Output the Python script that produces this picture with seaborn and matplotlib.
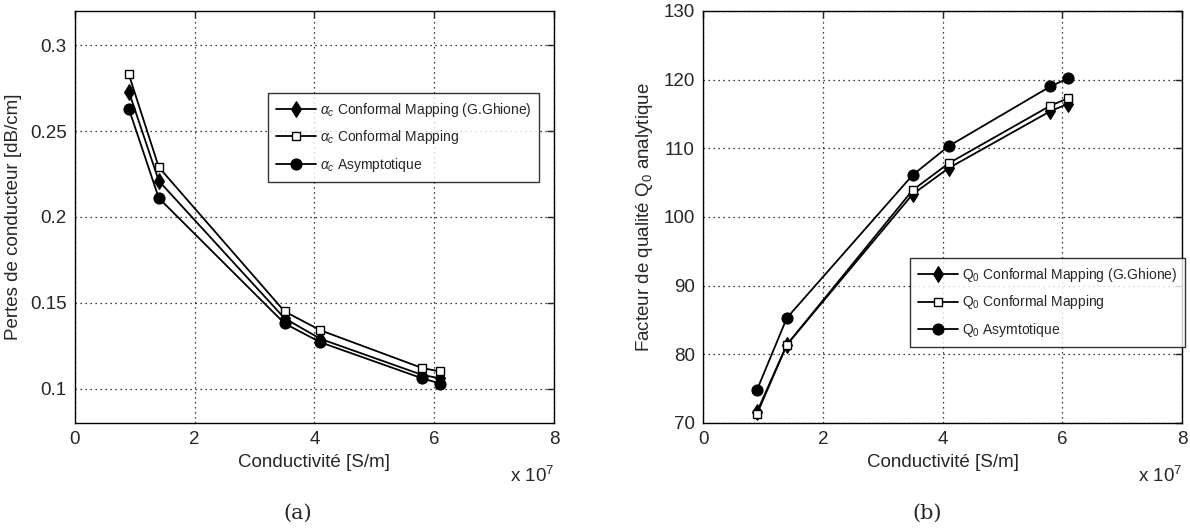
import numpy as np
import matplotlib
matplotlib.use("Agg")
import matplotlib.pyplot as plt
import seaborn as sns
from matplotlib.ticker import FuncFormatter

sns.set_theme(style="white")
plt.rcParams["font.family"] = ["Liberation Sans", "DejaVu Sans"]
plt.rcParams["mathtext.fontset"] = "custom"
plt.rcParams["mathtext.rm"] = "Liberation Sans"
plt.rcParams["mathtext.it"] = "Liberation Sans:italic"

# conductivity of the metals, S/m
conductivity = np.array([0.9e7, 1.4e7, 3.5e7, 4.1e7, 5.8e7, 6.1e7])

# (a) conductor losses, dB/cm
alpha_ghione = [0.273, 0.221, 0.141, 0.129, 0.108, 0.106]
alpha_conformal = [0.283, 0.229, 0.145, 0.134, 0.112, 0.110]
alpha_asympt = [0.263, 0.211, 0.138, 0.127, 0.106, 0.103]

# (b) analytic quality factor Q0
q_ghione = [71.6, 81.4, 103.3, 107.1, 115.4, 116.5]
q_conformal = [71.3, 81.4, 103.9, 107.8, 116.2, 117.3]
q_asympt = [74.8, 85.3, 106.1, 110.3, 119.0, 120.2]

x_ticks = [0, 2, 4, 6, 8]
alpha_ticks = [0.1, 0.15, 0.2, 0.25, 0.3]
q_ticks = [70, 80, 90, 100, 110, 120, 130]

styles = [
    dict(marker="d", markersize=8, markerfacecolor="black", markeredgecolor="black"),
    dict(marker="s", markersize=6, markerfacecolor="white", markeredgecolor="black", markeredgewidth=1),
    dict(marker="o", markersize=8, markerfacecolor="black", markeredgecolor="black"),
]


def draw_panel(ax, series, labels, ylim, yticks, ylabel, legend_anchor):
    xs = conductivity / 1e7
    for vals, lab, st in zip(series, labels, styles):
        sns.lineplot(x=xs, y=vals, ax=ax, color="black", linewidth=1.3,
                     label=lab, **st)
    ax.set_xlim(0, 8)
    ax.set_ylim(*ylim)
    ax.set_xticks(x_ticks)
    ax.set_yticks(yticks)
    ax.yaxis.set_major_formatter(FuncFormatter(lambda v, p: f"{v:g}"))
    ax.grid(True, color="black", linestyle=(0, (1, 3)), linewidth=0.9)
    ax.tick_params(direction="in", length=5, width=1, labelsize=13.5,
                   top=True, right=True, pad=6)
    for sp in ax.spines.values():
        sp.set_color("black")
        sp.set_linewidth(1.0)
    ax.set_xlabel("Conductivité [S/m]", fontsize=13.5, labelpad=4)
    ax.set_ylabel(ylabel, fontsize=13.5, labelpad=6)
    ax.text(1.0, -0.105, r"x 10$^7$", transform=ax.transAxes, ha="right",
            va="top", fontsize=13.5)
    leg = ax.legend(loc="upper left", bbox_to_anchor=legend_anchor,
                    bbox_transform=ax.figure.transFigure, fontsize=10,
                    frameon=True, fancybox=False, handlelength=2.9,
                    handletextpad=0.3, borderpad=0.55, labelspacing=0.7,
                    borderaxespad=0)
    leg.get_frame().set_edgecolor("black")
    leg.get_frame().set_linewidth(1.0)


fig = plt.figure(figsize=(11.9, 5.31), dpi=100)
ax_a = fig.add_axes([0.063, 0.2034, 0.4025, 0.776])
ax_b = fig.add_axes([0.5908, 0.2034, 0.4025, 0.776])

draw_panel(ax_a, [alpha_ghione, alpha_conformal, alpha_asympt],
           [r"$\alpha_c$ Conformal Mapping (G.Ghione)",
            r"$\alpha_c$ Conformal Mapping",
            r"$\alpha_c$ Asymptotique"],
           (0.08, 0.32), alpha_ticks, "Pertes de conducteur [dB/cm]",
           (0.2252, 0.8249))

draw_panel(ax_b, [q_ghione, q_conformal, q_asympt],
           [r"Q$_0$ Conformal Mapping (G.Ghione)",
            r"Q$_0$ Conformal Mapping",
            r"Q$_0$ Asymtotique"],
           (70, 130), q_ticks, r"Facteur de qualité Q$_0$ analytique",
           (0.7647, 0.5141))

fig.text(298 / 1190, 1 - 513 / 531, "(a)", ha="center", va="center",
         fontsize=15, family=["DejaVu Serif"])
fig.text(927 / 1190, 1 - 513 / 531, "(b)", ha="center", va="center",
         fontsize=15, family=["DejaVu Serif"])

fig.savefig("out.png", dpi=100)
plt.close(fig)
